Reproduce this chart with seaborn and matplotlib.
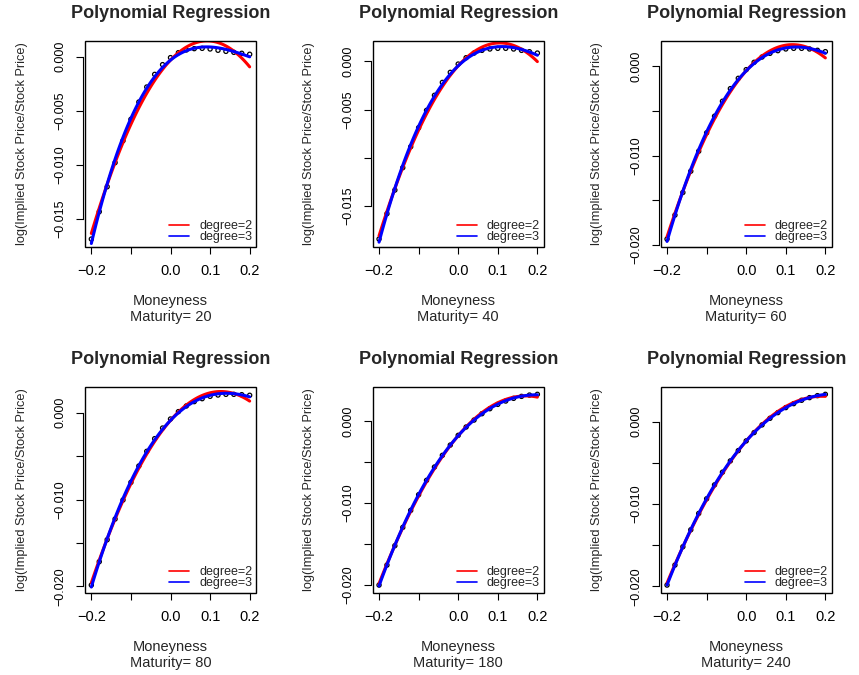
import numpy as np
import pandas as pd
import matplotlib
matplotlib.use("Agg")
import matplotlib.pyplot as plt
from matplotlib.patches import Rectangle
from matplotlib.lines import Line2D
import seaborn as sns

# ---------------- data ----------------
moneyness = [-0.20, -0.18, -0.16, -0.14, -0.12, -0.10, -0.08, -0.06, -0.04, -0.02,
             0.00, 0.02, 0.04, 0.06, 0.08, 0.10, 0.12, 0.14, 0.16, 0.18, 0.20]
maturities = [20, 40, 60, 80, 180, 240]

y_m20 = [-0.01688, -0.01435, -0.01204, -0.00981, -0.00778, -0.00580, -0.00420,
         -0.00281, -0.00164, -0.00074, -0.00009, 0.00037, 0.00062, 0.00074,
         0.00077, 0.00071, 0.00059, 0.00049, 0.00040, 0.00031, 0.00022]
y_m40 = [-0.01842, -0.01579, -0.01334, -0.01102, -0.00885, -0.00688, -0.00508,
         -0.00352, -0.00218, -0.00114, -0.00028, 0.00038, 0.00086, 0.00114,
         0.00128, 0.00135, 0.00135, 0.00128, 0.00114, 0.00100, 0.00086]
y_m60 = [-0.01933, -0.01665, -0.01413, -0.01175, -0.00952, -0.00747, -0.00561,
         -0.00394, -0.00253, -0.00138, -0.00041, 0.00041, 0.00100, 0.00141,
         0.00171, 0.00190, 0.00197, 0.00197, 0.00190, 0.00175, 0.00160]
y_m80 = [-0.01984, -0.01715, -0.01462, -0.01224, -0.01005, -0.00802, -0.00614,
         -0.00445, -0.00299, -0.00177, -0.00073, 0.00012, 0.00077, 0.00127,
         0.00161, 0.00188, 0.00203, 0.00211, 0.00211, 0.00207, 0.00200]
y_m180 = [-0.02004, -0.01759, -0.01522, -0.01298, -0.01090, -0.00898, -0.00722,
          -0.00559, -0.00416, -0.00290, -0.00171, -0.00069, 0.00016, 0.00094,
          0.00155, 0.00208, 0.00249, 0.00282, 0.00306, 0.00322, 0.00331]
y_m240 = [-0.01984, -0.01741, -0.01519, -0.01313, -0.01115, -0.00937, -0.00768,
          -0.00614, -0.00477, -0.00352, -0.00234, -0.00133, -0.00040, 0.00040,
          0.00109, 0.00170, 0.00218, 0.00259, 0.00291, 0.00315, 0.00331]

xticks = [-0.2, -0.1, 0.0, 0.1, 0.2]
xtick_labels = ["\u22120.2", "", "0.0", "0.1", "0.2"]

yticks_m20 = [-0.015, -0.010, -0.005, 0.000]
ytick_labels_m20 = ["\u22120.015", "\u22120.010", "\u22120.005", "0.000"]
yticks_m40 = [-0.015, -0.010, -0.005, 0.000]
ytick_labels_m40 = ["\u22120.015", "", "\u22120.005", "0.000"]
yticks_wide = [-0.020, -0.015, -0.010, -0.005, 0.000]
ytick_labels_wide = ["\u22120.020", "", "\u22120.010", "", "0.000"]

title_text = "Polynomial Regression"
xlabel_text = "Moneyness"
ylabel_text = "log(Implied Stock Price/Stock Price)"
legend_labels = ["degree=2", "degree=3"]

series = [y_m20, y_m40, y_m60, y_m80, y_m180, y_m240]
ytick_sets = [(yticks_m20, ytick_labels_m20), (yticks_m40, ytick_labels_m40),
              (yticks_wide, ytick_labels_wide), (yticks_wide, ytick_labels_wide),
              (yticks_wide, ytick_labels_wide), (yticks_wide, ytick_labels_wide)]

# ---------------- style ----------------
sns.set_style("white")
plt.rcParams["font.family"] = ["Liberation Sans", "DejaVu Sans"]
plt.rcParams["axes.unicode_minus"] = True

W, H = 859, 675
fig = plt.figure(figsize=(W / 100, H / 100), dpi=100)
fig.patch.set_facecolor("white")

col_left = [85.0, 372.7, 660.7]
row_top = [40.7, 386.7]
pw, ph = 171.0, 206.0

for i, (mat, yvals) in enumerate(zip(maturities, series)):
    r, c = divmod(i, 3)
    ax = fig.add_axes([col_left[c] / W, 1 - (row_top[r] + ph) / H, pw / W, ph / H])
    df = pd.DataFrame({"x": moneyness, "y": yvals})

    sns.scatterplot(data=df, x="x", y="y", ax=ax, marker="o", s=9,
                    facecolors="none", edgecolor="black", linewidth=0.9, zorder=2)
    sns.regplot(data=df, x="x", y="y", order=2, ci=None, scatter=False, ax=ax,
                color="#FF0000", truncate=True, line_kws=dict(lw=2.2, zorder=3))
    sns.regplot(data=df, x="x", y="y", order=3, ci=None, scatter=False, ax=ax,
                color="#0000FF", truncate=True, line_kws=dict(lw=2.2, zorder=4))

    ymin, ymax = min(yvals), max(yvals)
    span = ymax - ymin
    ax.set_ylim(ymin - 0.04 * span, ymax + 0.04 * span)
    ax.set_xlim(-0.216, 0.216)

    yt, ytl = ytick_sets[i]

    # spines first (set_position resets tick objects)
    for s in ["top", "right"]:
        ax.spines[s].set_visible(False)
    ax.spines["left"].set_position(("outward", 1.5))
    ax.spines["left"].set_bounds(yt[0], yt[-1])
    ax.spines["bottom"].set_bounds(xticks[0], xticks[-1])
    for s in ["left", "bottom"]:
        ax.spines[s].set_color("black")
        ax.spines[s].set_linewidth(0.8)
    ax.add_patch(Rectangle((0, 0), 1, 1, transform=ax.transAxes, fill=False,
                           edgecolor="black", lw=1.0, clip_on=False, zorder=10))

    ax.tick_params(axis="both", direction="out", length=4.7, width=0.8,
                   color="black", labelcolor="black", left=True, bottom=True,
                   right=False, top=False)
    ax.tick_params(axis="x", pad=7.5)
    ax.tick_params(axis="y", pad=7)
    ax.set_xticks(xticks)
    ax.set_xticklabels(xtick_labels, fontsize=10.5)
    ax.set_yticks(yt)
    ax.set_yticklabels(ytl, fontsize=9, rotation=90, va="center", ha="right")

    ax.set_title(title_text, fontsize=13, fontweight="bold", pad=16.5)
    ax.set_xlabel(f"{xlabel_text}\nMaturity= {mat}", fontsize=10.5, linespacing=1.1)
    ax.xaxis.set_label_coords(0.5, -0.232)
    ax.xaxis.label.set_va("top")
    ax.set_ylabel(ylabel_text, fontsize=9.2)
    ax.yaxis.set_label_coords(-0.335, 0.5)

    handles = [Line2D([], [], color="#FF0000", lw=1.2),
               Line2D([], [], color="#0000FF", lw=1.2)]
    ax.legend(handles, legend_labels, loc="lower right", frameon=False, fontsize=9,
              handlelength=1.6, handletextpad=0.8, labelspacing=-0.12,
              borderaxespad=0.1, borderpad=0.2)

fig.savefig("out.png", dpi=100, facecolor="white")
